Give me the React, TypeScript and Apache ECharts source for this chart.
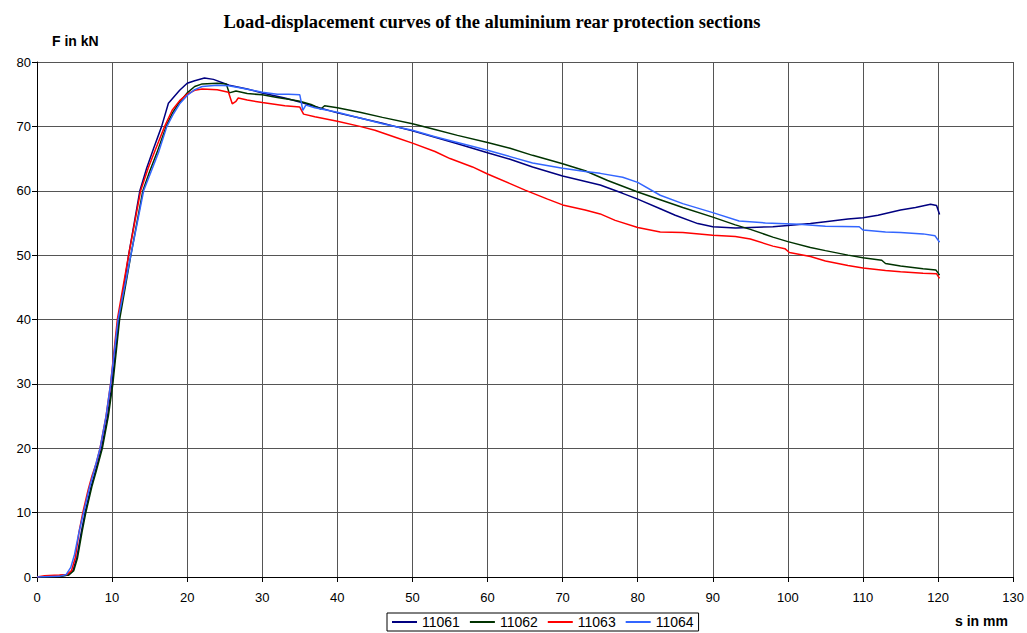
import React, { useEffect, useRef } from "react";
import * as echarts from "echarts";

const seriesNames = ["11061", "11062", "11063", "11064"];
const seriesColors = ["#000080", "#003300", "#ff0000", "#3366ff"];

const s11061: number[][] = [
  [0, 0], [3, 0.1], [4.2, 0.3], [4.8, 1], [5.3, 3], [5.9, 7], [6.4, 10], [7.2, 14], [7.8, 16.5], [8.6, 20],
  [9.4, 25], [10, 30], [10.9, 40], [12.2, 50], [13.7, 60], [14.6, 63.5], [15.5, 66.5], [16.6, 70], [17.5, 73.6],
  [19, 75.6], [20, 76.7], [21, 77.1], [22.3, 77.5], [23.5, 77.3], [25.6, 76.4], [28, 75.8], [30, 75.2], [33, 74.4],
  [35, 73.8], [37, 73.1], [40, 72.1], [43, 71.3], [46, 70.5], [50, 69.3], [53, 68.3], [56, 67.3], [60, 65.9],
  [63, 64.9], [66, 63.7], [70, 62.3], [75, 60.9], [78, 59.6], [80, 58.7], [83, 57.2], [85, 56.2], [88, 54.9],
  [90, 54.4], [93, 54.2], [95, 54.3], [98, 54.4], [100, 54.6], [103, 54.9], [105, 55.2], [108, 55.6], [110, 55.8],
  [112, 56.2], [115, 57.0], [117, 57.4], [119, 57.9], [119.8, 57.7], [120.2, 56.3],
];

const s11062: number[][] = [
  [0, 0], [3, 0.1], [4.2, 0.3], [4.9, 1], [5.4, 3], [6, 7], [6.5, 10], [7.3, 14], [7.9, 16.5], [8.7, 20],
  [9.5, 25], [10.1, 30], [11, 40], [12.5, 50], [14.1, 60], [15, 63], [16, 66], [17.2, 70], [18, 72], [19, 73.8],
  [20, 75.2], [21, 76.2], [22, 76.6], [24, 76.7], [25.2, 76.6], [25.6, 75.2], [26.5, 75.5], [28, 75.1], [30, 74.9],
  [32, 74.5], [33.5, 74.2], [35, 73.9], [36.5, 73.4], [37.8, 72.7], [38.3, 73.2], [40, 72.9], [43, 72.2],
  [46, 71.4], [50, 70.4], [53, 69.5], [56, 68.6], [60, 67.5], [63, 66.6], [66, 65.5], [70, 64.2], [73, 63.1],
  [76, 61.6], [80, 59.8], [83, 58.6], [86, 57.4], [90, 55.9], [93, 54.7], [95, 54.0], [98, 52.8], [100, 52.1],
  [103, 51.2], [105, 50.7], [108, 50.0], [110, 49.6], [112.5, 49.2], [113, 48.7], [115, 48.3], [118, 47.9],
  [119.7, 47.7], [120.2, 46.9],
];

const s11063: number[][] = [
  [0, 0], [1, 0.2], [3, 0.3], [4, 0.4], [4.6, 1], [5.1, 3], [5.6, 7], [6.1, 10], [6.8, 13.5], [7.3, 15.6],
  [7.9, 17.7], [8.4, 20], [9.2, 25], [9.8, 30], [10.7, 40], [12.2, 50], [13.8, 60], [14.8, 63.5], [15.8, 66.5],
  [17, 70], [18, 72.5], [19, 74], [20, 75], [21, 75.6], [22, 75.8], [24, 75.7], [25.5, 75.3], [26, 73.5],
  [26.5, 73.9], [26.8, 74.4], [28, 74.1], [30, 73.7], [33, 73.2], [35, 73.0], [35.5, 71.9], [37, 71.5],
  [40, 70.8], [43, 70.0], [45, 69.4], [48, 68.2], [50, 67.4], [53, 66.1], [55, 65.0], [58, 63.7], [60, 62.6],
  [63, 61.1], [65, 60.1], [68, 58.7], [70, 57.8], [73, 57.0], [75, 56.4], [77, 55.4], [80, 54.3], [83, 53.6],
  [86, 53.5], [90, 53.1], [93, 52.9], [95, 52.5], [98, 51.4], [99.6, 51.0], [100.2, 50.4], [103, 49.8],
  [105, 49.1], [108, 48.4], [110, 48.0], [113, 47.6], [115, 47.4], [118, 47.2], [119.8, 47.1], [120.2, 46.4],
];

const s11064: number[][] = [
  [0, 0], [3, 0.1], [3.9, 0.4], [4.5, 1.5], [5, 3.5], [5.6, 7], [6.2, 10], [7, 14], [7.6, 16.5], [8.4, 20],
  [9.2, 25], [9.8, 30], [10.8, 40], [12.5, 50], [14.2, 60], [15.2, 63], [16.2, 66], [17.3, 70], [18.2, 72],
  [19, 73.5], [20, 74.8], [21, 75.7], [22, 76.2], [24, 76.4], [25.5, 76.3], [27, 76.0], [30, 75.3], [32, 75.0],
  [33.5, 75.0], [35, 74.9], [35.4, 72.5], [35.8, 73.3], [37, 72.9], [40, 72.2], [43, 71.3], [46, 70.4],
  [50, 69.4], [53, 68.4], [56, 67.5], [60, 66.3], [63, 65.3], [66, 64.3], [70, 63.5], [73, 63.0], [75, 62.7],
  [78, 62.1], [80, 61.3], [83, 59.3], [86, 58.0], [90, 56.6], [93.5, 55.3], [97, 55.0], [101.5, 54.8],
  [105, 54.5], [109.5, 54.4], [110, 53.9], [113, 53.6], [115, 53.5], [118, 53.3], [119.6, 53.0], [120.2, 52.0],
];

const seriesData = [s11061, s11062, s11063, s11064];

const titleText = "Load-displacement curves of the aluminium rear protection sections";
const yAxisTitle = "F in kN";
const xAxisTitle = "s in mm";

export default function App() {
  const ref = useRef<HTMLDivElement>(null);
  useEffect(() => {
    document.body.style.margin = "0";
    if (!ref.current) return;
    const chart = echarts.init(ref.current, undefined, { renderer: "svg" });
    const sans = "Liberation Sans, Arial, sans-serif";
    chart.setOption({
      animation: false,
      backgroundColor: "#ffffff",
      title: {
        text: titleText,
        left: 487,
        top: 7,
        textAlign: "center",
        textStyle: {
          fontFamily: "Liberation Serif, Times New Roman, serif",
          fontWeight: "bold",
          fontSize: 18.5,
          color: "#000",
        },
      },
      graphic: [
        {
          type: "text",
          left: 52,
          top: 34,
          style: { text: yAxisTitle, font: `bold 14px ${sans}`, fill: "#000" },
        },
        {
          type: "text",
          left: 955,
          top: 614,
          style: { text: xAxisTitle, font: `bold 14px ${sans}`, fill: "#000" },
        },
      ],
      legend: {
        data: seriesNames,
        bottom: 2,
        left: 387,
        orient: "horizontal",
        icon: "rect",
        itemWidth: 25,
        itemHeight: 2,
        itemGap: 10,
        borderColor: "#000",
        borderWidth: 1,
        borderRadius: 0,
        padding: [2, 5, 2, 5],
        textStyle: { fontFamily: sans, fontSize: 14, color: "#000" },
      },
      grid: { left: 37, right: 12, top: 62, bottom: 56, containLabel: false },
      xAxis: {
        type: "value",
        min: 0,
        max: 130,
        interval: 10,
        axisLine: { show: true, lineStyle: { color: "#000", width: 1 } },
        axisTick: { show: true, length: 5, lineStyle: { color: "#000" } },
        axisLabel: { fontFamily: sans, fontSize: 13, color: "#000", margin: 14 },
        splitLine: { show: true, lineStyle: { color: "#555", width: 1 } },
      },
      yAxis: {
        type: "value",
        min: 0,
        max: 80,
        interval: 10,
        axisLine: { show: true, lineStyle: { color: "#000", width: 1 } },
        axisTick: { show: true, length: 5, lineStyle: { color: "#000" } },
        axisLabel: { fontFamily: sans, fontSize: 13, color: "#000", margin: 6 },
        splitLine: { show: true, lineStyle: { color: "#555", width: 1 } },
      },
      series: seriesNames.map((name, i) => ({
        name,
        type: "line",
        data: seriesData[i],
        symbol: "none",
        showSymbol: false,
        smooth: false,
        lineStyle: { color: seriesColors[i], width: 1.5 },
        itemStyle: { color: seriesColors[i] },
      })),
    });
    return () => chart.dispose();
  }, []);
  return <div ref={ref} style={{ width: 1027, height: 633 }} />;
}
